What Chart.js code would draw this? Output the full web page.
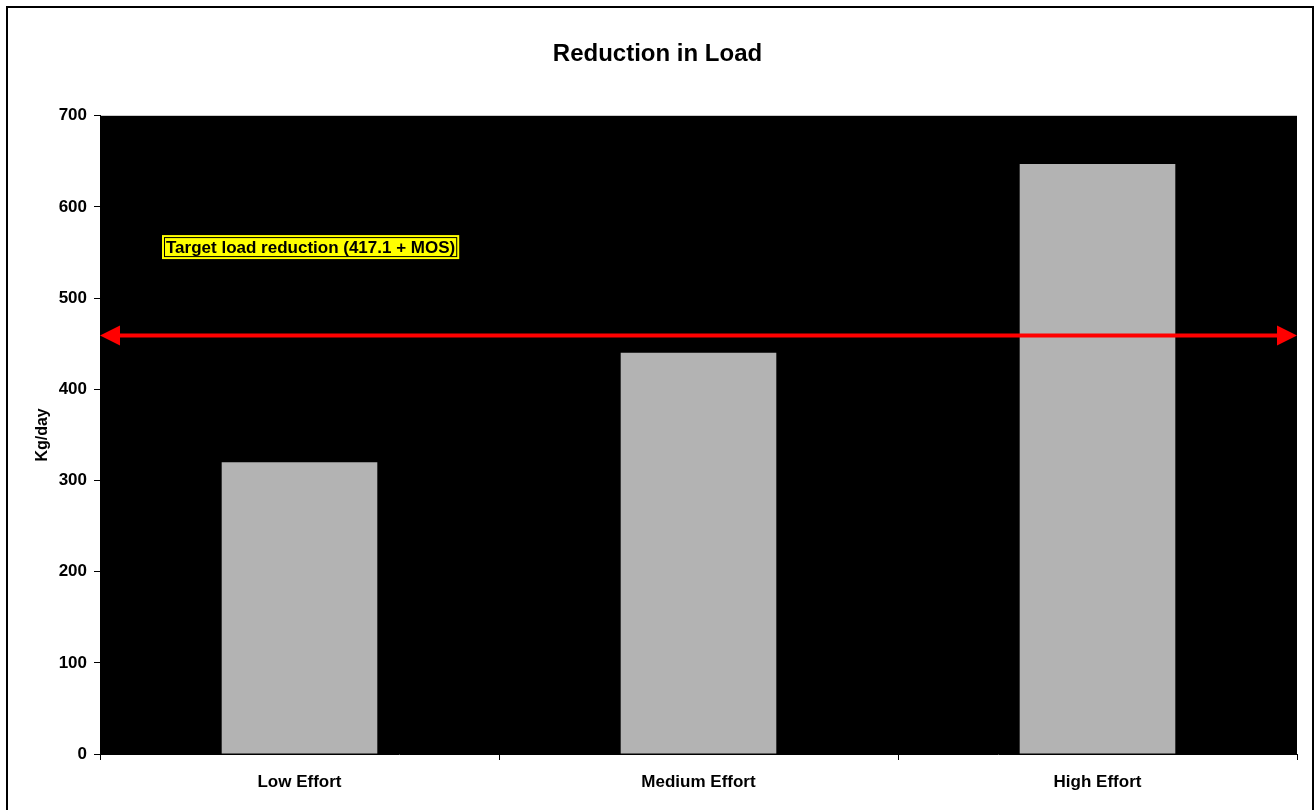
<!DOCTYPE html>
<html>
<head>
<meta charset="utf-8">
<script src="https://cdn.jsdelivr.net/npm/chart.js@4.4.0/dist/chart.umd.min.js"></script>
<style>
  html, body { margin: 0; padding: 0; background: #fff; }
  #wrap { width: 1315px; height: 810px; position: relative; }
</style>
</head>
<body>
<div id="wrap"><canvas id="load-chart" width="1315" height="810"></canvas></div>
<script>
// Chart data
const categories = ['Low Effort', 'Medium Effort', 'High Effort'];
const loadReduction = [320, 440, 647];
const targetLoad = 459;
const targetLabel = 'Target load reduction (417.1 + MOS)';
const yTicks = [0, 100, 200, 300, 400, 500, 600, 700];

const fontFamily = '"Liberation Sans", Arial, sans-serif';

// black plot area + outer frame
const backdrop = {
    id: 'backdrop',
    beforeDraw(chart) {
        const { ctx, chartArea: a } = chart;
        ctx.save();
        ctx.fillStyle = '#000';
        ctx.fillRect(a.left, a.top, a.right - a.left, a.bottom - a.top);
        ctx.strokeStyle = '#000';
        ctx.lineWidth = 2;
        ctx.strokeRect(7, 7, 1306, 820);
        ctx.restore();
    }
};

// red double-headed arrow for the target + yellow label
const targetArrow = {
    id: 'targetArrow',
    afterDatasetsDraw(chart) {
        const { ctx, chartArea: a, scales } = chart;
        const y = scales.y.getPixelForValue(targetLoad);
        const head = 20, half = 10;
        ctx.save();
        ctx.strokeStyle = '#ff0000';
        ctx.fillStyle = '#ff0000';
        ctx.lineWidth = 4;
        ctx.beginPath();
        ctx.moveTo(a.left + head - 2, y);
        ctx.lineTo(a.right - head + 2, y);
        ctx.stroke();
        ctx.beginPath();
        ctx.moveTo(a.left, y);
        ctx.lineTo(a.left + head, y - half);
        ctx.lineTo(a.left + head, y + half);
        ctx.closePath();
        ctx.fill();
        ctx.beginPath();
        ctx.moveTo(a.right, y);
        ctx.lineTo(a.right - head, y - half);
        ctx.lineTo(a.right - head, y + half);
        ctx.closePath();
        ctx.fill();

        // label box
        const ly = scales.y.getPixelForValue(556);
        ctx.font = 'bold 17px ' + fontFamily;
        const w = ctx.measureText(targetLabel).width + 8;
        const bx = a.left + 62, bh = 24;
        ctx.fillStyle = '#ffff00';
        ctx.fillRect(bx, ly - bh / 2, w, bh);
        ctx.strokeStyle = '#000';
        ctx.lineWidth = 1;
        ctx.strokeRect(bx + 2.5, ly - bh / 2 + 2.5, w - 5, bh - 5);
        ctx.fillStyle = '#000';
        ctx.textBaseline = 'middle';
        ctx.fillText(targetLabel, bx + 4, ly + 1);
        ctx.restore();
    }
};

function loadChartConfig() {
    const data = {
        labels: categories,
        datasets: [
            {
                data: loadReduction,
                backgroundColor: '#b3b3b3',
                borderWidth: 0,
                categoryPercentage: 1.0,
                barPercentage: 0.39
            }
        ]
    };

    const config = {
        type: 'bar',
        data: data,
        options: {
            responsive: false,
            animation: false,
            layout: { padding: 0 },
            plugins: {
                legend: { display: false },
                tooltip: { enabled: false },
                title: {
                    display: true,
                    text: 'Reduction in Load',
                    color: '#000',
                    font: { family: fontFamily, size: 24, weight: 'bold' },
                    padding: { top: 40, bottom: 47 }
                }
            },
            scales: {
                x: {
                    offset: true,
                    grid: {
                        offset: true,
                        drawOnChartArea: false,
                        tickLength: 6,
                        tickColor: '#000'
                    },
                    border: { color: '#000', width: 1 },
                    ticks: {
                        color: '#000',
                        padding: 12,
                        font: { family: fontFamily, size: 17, weight: 'bold' }
                    },
                    afterFit(scale) { scale.height = 56; }
                },
                y: {
                    min: 0,
                    max: 700,
                    afterBuildTicks(scale) {
                        scale.ticks = yTicks.map(v => ({ value: v }));
                    },
                    grid: {
                        drawOnChartArea: false,
                        tickLength: 6,
                        tickColor: '#000'
                    },
                    border: { color: '#000', width: 1 },
                    ticks: {
                        color: '#000',
                        padding: 7,
                        font: { family: fontFamily, size: 17, weight: 'bold' }
                    },
                    title: {
                        display: true,
                        text: 'Kg/day',
                        color: '#000',
                        font: { family: fontFamily, size: 16, weight: 'bold' },
                        padding: { top: 33, bottom: 0 }
                    },
                    afterFit(scale) { scale.width = 100; }
                },
                // empty right-hand spacer so the title centres on the full canvas
                yr: {
                    position: 'right',
                    display: true,
                    grid: { display: false },
                    border: { display: false },
                    ticks: { display: false },
                    afterFit(scale) { scale.width = 18; }
                }
            }
        },
        plugins: [backdrop, targetArrow]
    };
    return config;
}

const ctxLoad = document.getElementById('load-chart');
new Chart(ctxLoad, loadChartConfig());
</script>
</body>
</html>
